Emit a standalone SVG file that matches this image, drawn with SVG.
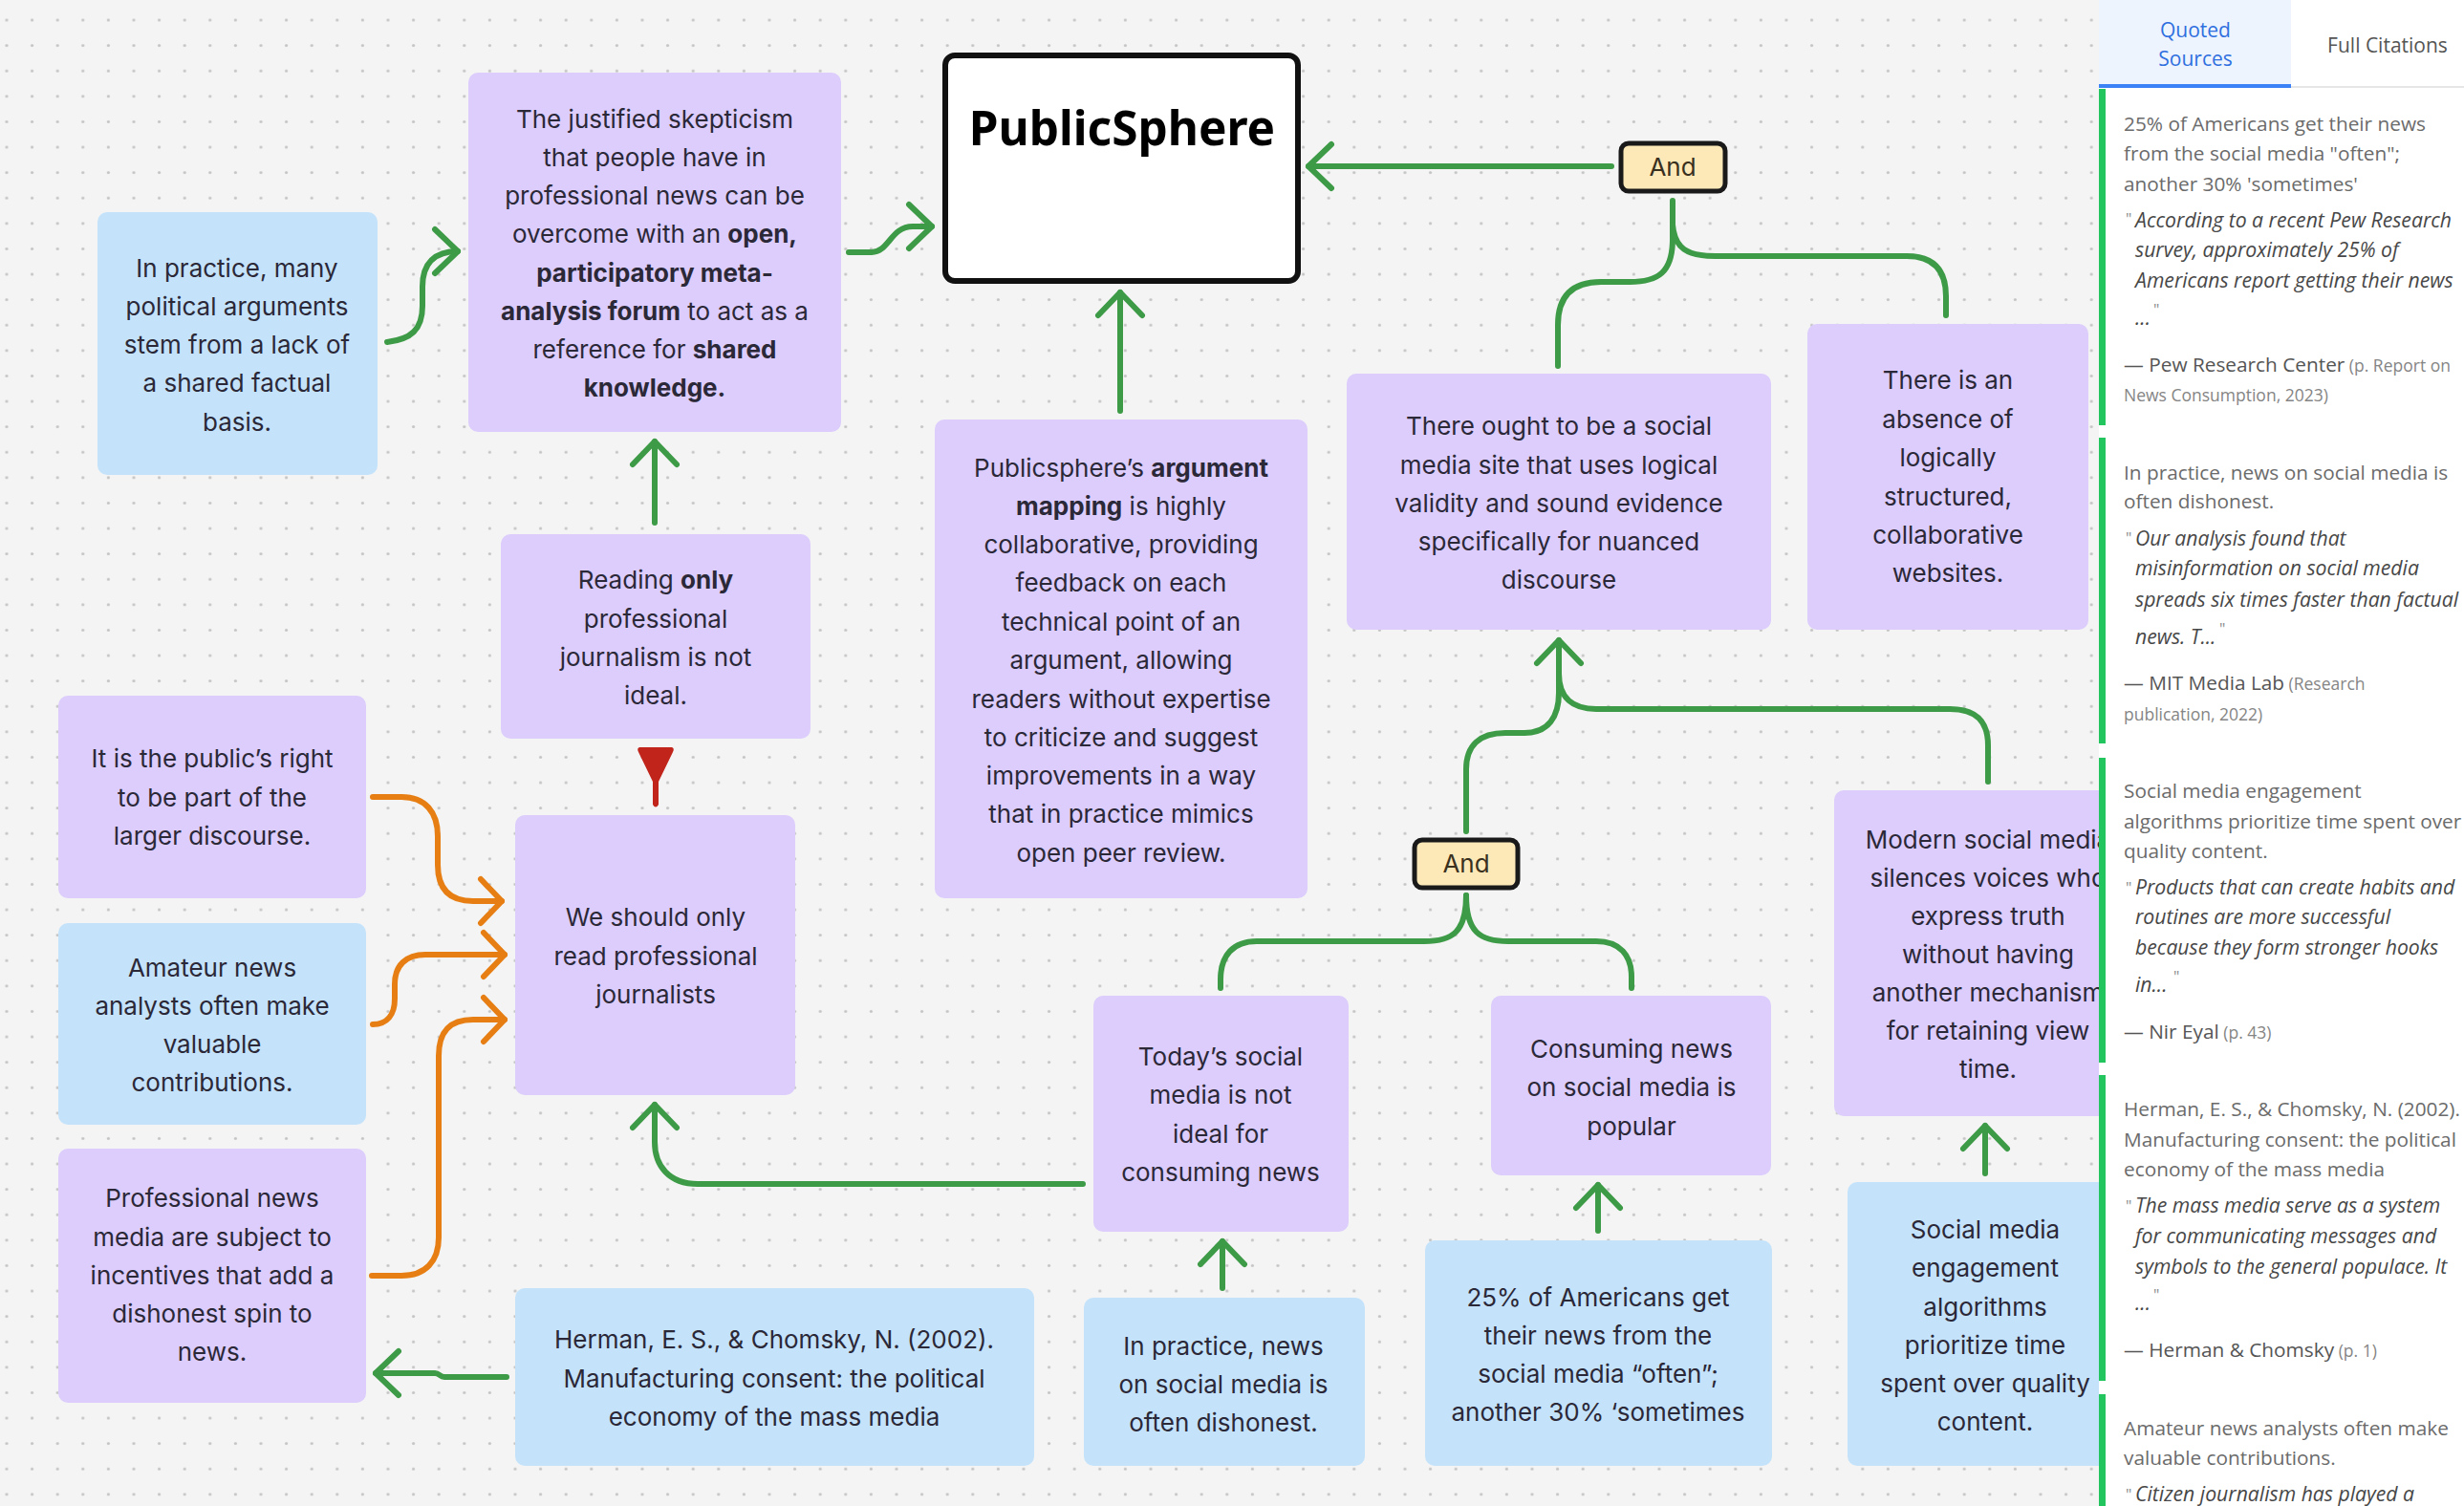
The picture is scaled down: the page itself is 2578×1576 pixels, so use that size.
<svg xmlns="http://www.w3.org/2000/svg" width="2578" height="1576" viewBox="0 0 2578 1576">
<style>
.bg{fill:#f4f4f4}
.p{fill:#dccdfc}
.b{fill:#c4e3fb}
.t{font-family:Inter,"Noto Sans",sans-serif;font-size:26px;fill:#2b2838;text-anchor:middle}
.bd{font-weight:700}
.g{fill:none;stroke:#3d9a46;stroke-width:6;stroke-linecap:round;stroke-linejoin:round}
.o{fill:none;stroke:#e67e13;stroke-width:6;stroke-linecap:round;stroke-linejoin:round}
.and rect{fill:#fde9b7;stroke:#1a1a1a;stroke-width:5}
.and text{font-family:Inter,"Noto Sans",sans-serif;font-size:26px;fill:#3a3020;text-anchor:middle}
.pt{font-family:"Open Sans","Noto Sans",sans-serif;font-size:20.8px;fill:#6b6b6b}
.pq{font-family:"Open Sans","Noto Sans",sans-serif;font-size:21.2px;font-style:italic;fill:#474747}
.pm{font-family:"Open Sans","Noto Sans",sans-serif;font-size:16px;fill:#8a8a8a}
.pa{font-family:"Open Sans","Noto Sans",sans-serif;font-size:20.8px;fill:#555}
.ps{font-size:17.5px;fill:#858585}
.bar{fill:#22c55e}
</style>
<defs>
<pattern id="dots" x="-6.3" y="7.7" width="26.6" height="26.6" patternUnits="userSpaceOnUse"><circle cx="13.3" cy="13.3" r="1.6" fill="#c4c4c4"/></pattern>
<marker id="mg" viewBox="-30 -30 40 60" refX="0" refY="0" markerWidth="40" markerHeight="60" markerUnits="userSpaceOnUse" orient="auto"><path d="M-24,-23 L0,0 L-24,23" fill="none" stroke="#3d9a46" stroke-width="6" stroke-linecap="round" stroke-linejoin="round"/></marker>
<marker id="mo" viewBox="-30 -30 40 60" refX="0" refY="0" markerWidth="40" markerHeight="60" markerUnits="userSpaceOnUse" orient="auto"><path d="M-22,-23 L0,0 L-22,23" fill="none" stroke="#e67e13" stroke-width="6" stroke-linecap="round" stroke-linejoin="round"/></marker>
</defs>
<rect class="bg" x="0" y="0" width="2578" height="1576"/>
<rect fill="url(#dots)" x="0" y="0" width="2578" height="1576"/>

<g id="connectors">
<path class="g" marker-end="url(#mg)" d="M405,358 C430,355 442,345 442,320 L442,300 C442,275 455,263 479,263"/>
<path class="g" marker-end="url(#mg)" d="M888,264 L912,264 C930,264 932,237 955,237 L975,237"/>
<path class="g" marker-end="url(#mg)" d="M1686,174 L1369,174"/>
<path class="g" marker-end="url(#mg)" d="M1172,430 L1172,306"/>
<path class="g" d="M1750,210 L1750,250 C1750,285 1735,295 1705,295 L1675,295 C1645,295 1630,310 1630,340 L1630,383"/>
<path class="g" d="M1750,235 C1752,260 1765,268 1795,268 L1995,268 C2025,268 2036,285 2036,310 L2036,330"/>
<path class="g" marker-end="url(#mg)" d="M1534,870 L1534,805 C1534,780 1548,767 1575,767 L1595,767 C1620,767 1631,750 1631,725 L1631,670"/>
<path class="g" d="M2080,818 L2080,780 C2080,755 2068,742 2040,742 L1670,742 C1645,742 1631,730 1631,705"/>
<path class="g" d="M1534,937 C1534,975 1520,985 1490,985 L1315,985 C1290,985 1277,1000 1277,1025 L1277,1034"/>
<path class="g" d="M1534,937 C1534,975 1548,985 1578,985 L1670,985 C1695,985 1707,1000 1707,1022 L1707,1034"/>
<path class="g" marker-end="url(#mg)" d="M1279,1348 L1279,1299"/>
<path class="g" marker-end="url(#mg)" d="M1672,1288 L1672,1240"/>
<path class="g" marker-end="url(#mg)" d="M2077,1228 L2077,1178"/>
<path class="g" marker-end="url(#mg)" d="M1133,1239 L730,1239 C700,1239 685,1220 685,1195 L685,1156"/>
<path class="g" marker-end="url(#mg)" d="M685,547 L685,462"/>
<path class="g" marker-end="url(#mg)" d="M530,1441 L465,1441 C460,1441 460,1437 455,1437 L393,1437"/>
<path class="o" marker-end="url(#mo)" d="M390,834 L420,834 C445,834 458,850 458,875 L458,905 C458,930 470,943 495,943 L525,943"/>
<path class="o" marker-end="url(#mo)" d="M390,1072 C405,1072 413,1062 413,1045 L413,1030 C413,1010 425,999 445,999 L528,999"/>
<path class="o" marker-end="url(#mo)" d="M389,1335 L420,1335 C445,1335 459,1320 459,1295 L459,1105 C459,1080 470,1067 495,1067 L528,1067"/>
<path d="M669,782 L703,782 Q706,783 704,787 L689,818 L689,842 Q686,847 683,842 L683,818 L668,787 Q666,783 669,782 Z" fill="#c0241b"/>
</g>

<g id="n-practice">
<rect class="b" x="102" y="222" width="293" height="275" rx="10"/>
<text class="t"><tspan x="248" y="290">In practice, many</tspan><tspan x="248" y="330">political arguments</tspan><tspan x="248" y="370">stem from a lack of</tspan><tspan x="248" y="410">a shared factual</tspan><tspan x="248" y="451">basis.</tspan></text>
</g>

<g id="n-skepticism">
<rect class="p" x="490" y="76" width="390" height="376" rx="10"/>
<text class="t" x="685" y="134">The justified skepticism</text>
<text class="t" x="685" y="174">that people have in</text>
<text class="t" x="685" y="214">professional news can be</text>
<text class="t" x="685" y="254">overcome with an <tspan class="bd">open,</tspan></text>
<text class="t bd" x="685" y="295">participatory meta-</text>
<text class="t" x="685" y="335"><tspan class="bd">analysis forum</tspan> to act as a</text>
<text class="t" x="685" y="375">reference for <tspan class="bd">shared</tspan></text>
<text class="t bd" x="685" y="415">knowledge.</text>
</g>

<g id="n-publicsphere">
<rect x="989" y="58" width="369" height="236" rx="10" fill="#fff" stroke="#111" stroke-width="6"/>
<text x="1174" y="152" font-family="'Noto Sans',sans-serif" font-size="49.5" font-weight="700" fill="#000" text-anchor="middle">PublicSphere</text>
</g>

<g id="n-and1" class="and">
<rect x="1696" y="150" width="109" height="50" rx="8"/>
<text x="1750" y="184">And</text>
</g>

<g id="n-argmap">
<rect class="p" x="978" y="439" width="390" height="501" rx="10"/>
<text class="t" x="1173" y="499">Publicsphere’s <tspan class="bd">argument</tspan></text>
<text class="t" x="1173" y="539"><tspan class="bd">mapping</tspan> is highly</text>
<text class="t" x="1173" y="579">collaborative, providing</text>
<text class="t" x="1173" y="619">feedback on each</text>
<text class="t" x="1173" y="660">technical point of an</text>
<text class="t" x="1173" y="700">argument, allowing</text>
<text class="t" x="1173" y="741">readers without expertise</text>
<text class="t" x="1173" y="781">to criticize and suggest</text>
<text class="t" x="1173" y="821">improvements in a way</text>
<text class="t" x="1173" y="861">that in practice mimics</text>
<text class="t" x="1173" y="902">open peer review.</text>
</g>

<g id="n-ought">
<rect class="p" x="1409" y="391" width="444" height="268" rx="10"/>
<text class="t"><tspan x="1631" y="455">There ought to be a social</tspan><tspan x="1631" y="496">media site that uses logical</tspan><tspan x="1631" y="536">validity and sound evidence</tspan><tspan x="1631" y="576">specifically for nuanced</tspan><tspan x="1631" y="616">discourse</tspan></text>
</g>

<g id="n-absence">
<rect class="p" x="1891" y="339" width="294" height="320" rx="10"/>
<text class="t"><tspan x="2038" y="407">There is an</tspan><tspan x="2038" y="448">absence of</tspan><tspan x="2038" y="488">logically</tspan><tspan x="2038" y="529">structured,</tspan><tspan x="2038" y="569">collaborative</tspan><tspan x="2038" y="609">websites.</tspan></text>
</g>

<g id="n-reading">
<rect class="p" x="524" y="559" width="324" height="214" rx="10"/>
<text class="t" x="686" y="616">Reading <tspan class="bd">only</tspan></text>
<text class="t"><tspan x="686" y="657">professional</tspan><tspan x="686" y="697">journalism is not</tspan><tspan x="686" y="737">ideal.</tspan></text>
</g>

<g id="n-weshould">
<rect class="p" x="539" y="853" width="293" height="293" rx="10"/>
<text class="t"><tspan x="686" y="969">We should only</tspan><tspan x="686" y="1010">read professional</tspan><tspan x="686" y="1050">journalists</tspan></text>
</g>

<g id="n-right">
<rect class="p" x="61" y="728" width="322" height="212" rx="10"/>
<text class="t"><tspan x="222" y="803">It is the public’s right</tspan><tspan x="222" y="844">to be part of the</tspan><tspan x="222" y="884">larger discourse.</tspan></text>
</g>

<g id="n-amateur">
<rect class="b" x="61" y="966" width="322" height="211" rx="10"/>
<text class="t"><tspan x="222" y="1022">Amateur news</tspan><tspan x="222" y="1062">analysts often make</tspan><tspan x="222" y="1102">valuable</tspan><tspan x="222" y="1142">contributions.</tspan></text>
</g>

<g id="n-professional">
<rect class="p" x="61" y="1202" width="322" height="266" rx="10"/>
<text class="t"><tspan x="222" y="1263">Professional news</tspan><tspan x="222" y="1304">media are subject to</tspan><tspan x="222" y="1344">incentives that add a</tspan><tspan x="222" y="1384">dishonest spin to</tspan><tspan x="222" y="1424">news.</tspan></text>
</g>

<g id="n-herman">
<rect class="b" x="539" y="1348" width="543" height="186" rx="10"/>
<text class="t"><tspan x="810" y="1411">Herman, E. S., &amp; Chomsky, N. (2002).</tspan><tspan x="810" y="1452">Manufacturing consent: the political</tspan><tspan x="810" y="1492">economy of the mass media</tspan></text>
</g>

<g id="n-and2" class="and">
<rect x="1480" y="879" width="108" height="50" rx="8"/>
<text x="1534" y="913">And</text>
</g>

<g id="n-today">
<rect class="p" x="1144" y="1042" width="267" height="247" rx="10"/>
<text class="t"><tspan x="1277" y="1115">Today’s social</tspan><tspan x="1277" y="1155">media is not</tspan><tspan x="1277" y="1196">ideal for</tspan><tspan x="1277" y="1236">consuming news</tspan></text>
</g>

<g id="n-consuming">
<rect class="p" x="1560" y="1042" width="293" height="188" rx="10"/>
<text class="t"><tspan x="1707" y="1107">Consuming news</tspan><tspan x="1707" y="1147">on social media is</tspan><tspan x="1707" y="1188">popular</tspan></text>
</g>

<g id="n-dishonest">
<rect class="b" x="1134" y="1358" width="294" height="176" rx="10"/>
<text class="t"><tspan x="1280" y="1418">In practice, news</tspan><tspan x="1280" y="1458">on social media is</tspan><tspan x="1280" y="1498">often dishonest.</tspan></text>
</g>

<g id="n-25pct">
<rect class="b" x="1491" y="1298" width="363" height="236" rx="10"/>
<text class="t"><tspan x="1672" y="1367">25% of Americans get</tspan><tspan x="1672" y="1407">their news from the</tspan><tspan x="1672" y="1447">social media “often”;</tspan><tspan x="1672" y="1487">another 30% ‘sometimes</tspan></text>
</g>

<g id="n-modern">
<rect class="p" x="1919" y="827" width="322" height="341" rx="10"/>
<text class="t"><tspan x="2080" y="888">Modern social media</tspan><tspan x="2080" y="928">silences voices who</tspan><tspan x="2080" y="968">express truth</tspan><tspan x="2080" y="1008">without having</tspan><tspan x="2080" y="1048">another mechanism</tspan><tspan x="2080" y="1088">for retaining view</tspan><tspan x="2080" y="1128">time.</tspan></text>
</g>

<g id="n-engagement">
<rect class="b" x="1933" y="1237" width="288" height="297" rx="10"/>
<text class="t"><tspan x="2077" y="1296">Social media</tspan><tspan x="2077" y="1336">engagement</tspan><tspan x="2077" y="1377">algorithms</tspan><tspan x="2077" y="1417">prioritize time</tspan><tspan x="2077" y="1457">spent over quality</tspan><tspan x="2077" y="1497">content.</tspan></text>
</g>

<g id="panel">
<rect x="2196" y="0" width="382" height="1576" fill="#fff"/>
<rect x="2196" y="0" width="201" height="91" fill="#edf4fd"/>
<rect x="2397" y="90" width="181" height="2" fill="#e6e6e6"/>
<rect x="2196" y="88" width="201" height="4" fill="#3b82f6"/>
<text font-family="'Open Sans','Noto Sans',sans-serif" font-size="21" fill="#2f6fdf" text-anchor="middle"><tspan x="2297" y="39">Quoted</tspan><tspan x="2297" y="69">Sources</tspan></text>
<text x="2498" y="55" font-family="'Open Sans','Noto Sans',sans-serif" font-size="21" fill="#555" text-anchor="middle">Full Citations</text>

<rect class="bar" x="2196" y="93" width="7" height="352"/>
<rect class="bar" x="2196" y="458" width="7" height="320"/>
<rect class="bar" x="2196" y="793" width="7" height="319"/>
<rect class="bar" x="2196" y="1125" width="7" height="320"/>
<rect class="bar" x="2196" y="1459" width="7" height="117"/>

<text class="pt"><tspan x="2222" y="137">25% of Americans get their news</tspan><tspan x="2222" y="168">from the social media "often";</tspan><tspan x="2222" y="200">another 30% 'sometimes'</tspan></text>
<text class="pm" x="2224" y="235">"</text>
<text class="pq"><tspan x="2234" y="238">According to a recent Pew Research</tspan><tspan x="2234" y="269">survey, approximately 25% of</tspan><tspan x="2234" y="301">Americans report getting their news</tspan><tspan x="2234" y="340">...</tspan></text>
<text class="pm" x="2253" y="330">"</text>
<text class="pa" x="2222" y="389">— Pew Research Center<tspan class="ps"> (p. Report on</tspan></text>
<text class="pa ps" x="2222" y="420">News Consumption, 2023)</text>

<text class="pt"><tspan x="2222" y="502">In practice, news on social media is</tspan><tspan x="2222" y="532">often dishonest.</tspan></text>
<text class="pm" x="2224" y="569">"</text>
<text class="pq"><tspan x="2234" y="571">Our analysis found that</tspan><tspan x="2234" y="602">misinformation on social media</tspan><tspan x="2234" y="635">spreads six times faster than factual</tspan><tspan x="2234" y="674">news. T...</tspan></text>
<text class="pm" x="2322" y="664">"</text>
<text class="pa" x="2222" y="722">— MIT Media Lab<tspan class="ps"> (Research</tspan></text>
<text class="pa ps" x="2222" y="754">publication, 2022)</text>

<text class="pt"><tspan x="2222" y="835">Social media engagement</tspan><tspan x="2222" y="867">algorithms prioritize time spent over</tspan><tspan x="2222" y="898">quality content.</tspan></text>
<text class="pm" x="2224" y="935">"</text>
<text class="pq"><tspan x="2234" y="936">Products that can create habits and</tspan><tspan x="2234" y="967">routines are more successful</tspan><tspan x="2234" y="999">because they form stronger hooks</tspan><tspan x="2234" y="1038">in...</tspan></text>
<text class="pm" x="2274" y="1028">"</text>
<text class="pa" x="2222" y="1087">— Nir Eyal<tspan class="ps"> (p. 43)</tspan></text>

<text class="pt"><tspan x="2222" y="1168">Herman, E. S., &amp; Chomsky, N. (2002).</tspan><tspan x="2222" y="1200">Manufacturing consent: the political</tspan><tspan x="2222" y="1231">economy of the mass media</tspan></text>
<text class="pm" x="2224" y="1268">"</text>
<text class="pq"><tspan x="2234" y="1269">The mass media serve as a system</tspan><tspan x="2234" y="1301">for communicating messages and</tspan><tspan x="2234" y="1333">symbols to the general populace. It</tspan><tspan x="2234" y="1371">...</tspan></text>
<text class="pm" x="2253" y="1361">"</text>
<text class="pa" x="2222" y="1420">— Herman &amp; Chomsky<tspan class="ps"> (p. 1)</tspan></text>

<text class="pt"><tspan x="2222" y="1502">Amateur news analysts often make</tspan><tspan x="2222" y="1533">valuable contributions.</tspan></text>
<text class="pm" x="2224" y="1570">"</text>
<text class="pq" x="2234" y="1571">Citizen journalism has played a</text>
</g>
</svg>
